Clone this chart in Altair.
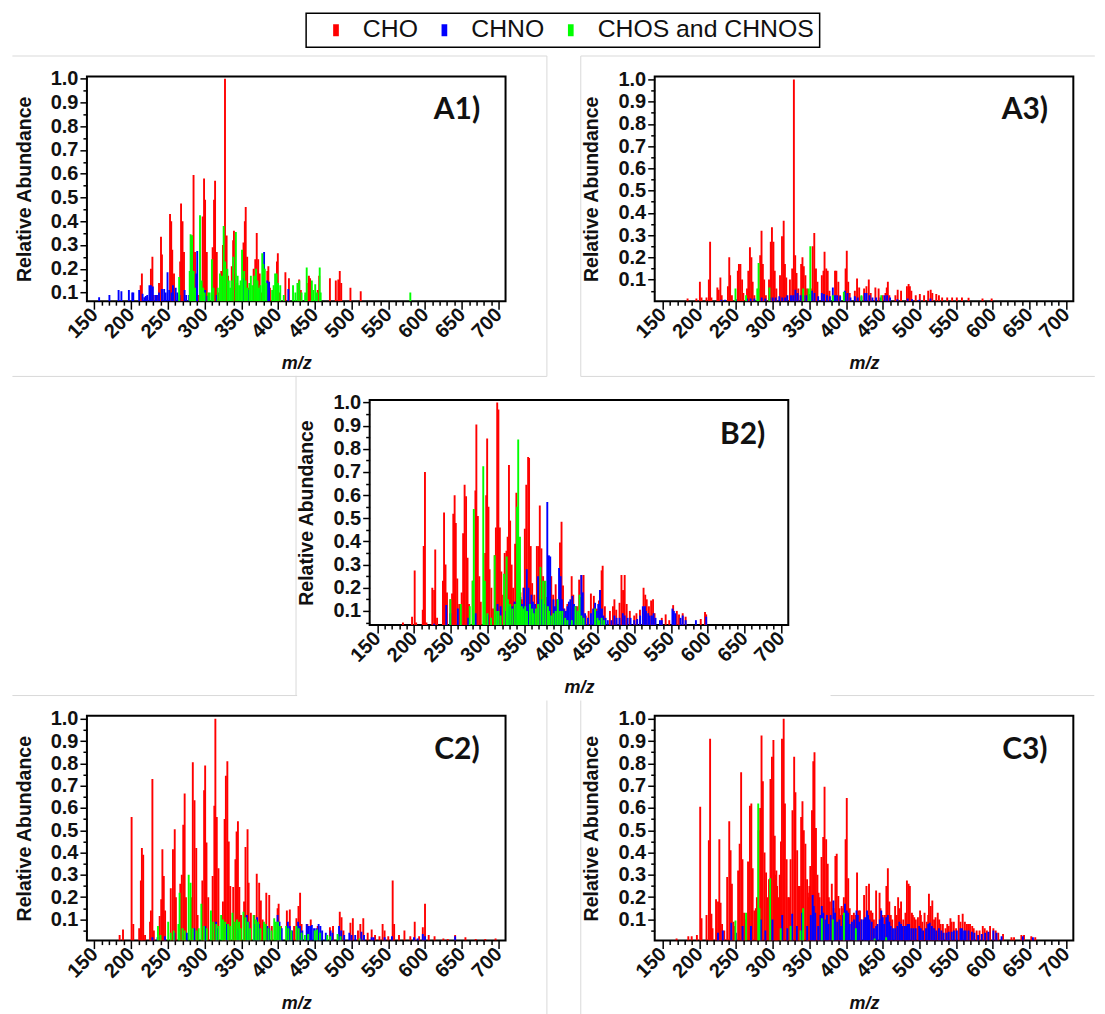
import altair as alt
import pandas as pd

CLASSES = ["CHO", "CHNO", "CHOS and CHNOS"]
COLOURS = ["#ff0000", "#0000ff", "#00ff00"]
X_TICKS = list(range(150, 701, 10))
Y_TICKS = [round(0.05 * i, 2) for i in range(1, 21)]

A1_CHO = [(213,.13),(214.7,.18),(222,.08),(227,.20),(229,.25),(230.5,.09),(235.6,.09),(238,.14),(240.7,.335),(242,.26),(246,.09),(253,.43),(254.6,.40),(256,.28),(258.4,.18),(266.8,.23),(268,.475),(270,.40),(272,.27),(283,.34),(285,.595),(287,.27),(289,.16),(291,.09),(297.4,.42),(299.3,.58),(300.7,.49),(303,.27),(305,.09),(311,.29),(312.9,.49),(314.3,.57),(316.6,.27),(318.5,.1),(322.7,.19),(325,.30),(327.8,1.0),(330,.34),(332,.17),(337,.21),(338.9,.32),(340,.36),(342,.18),(344.5,.14),(353,.31),(354.8,.40),(356,.46),(358,.25),(360,.12),(366.8,.2),(369,.24),(371,.35),(373,.24),(375,.18),(377,.1),(385.4,.19),(386.8,.21),(389,.12),(398.5,.23),(399.7,.265),(402,.1),(410,.185),(414.8,.16),(428.7,.155),(431,.11),(441,.14),(442,.17),(443.6,.16),(454,.11),(456,.17),(470.6,.16),(478.6,.15),(482,.155),(484,.19),(486,.14),(498.5,.12),(512.5,.105)]
A1_CHNO = [(156.5,.08),(170.5,.09),(183,.11),(186.8,.105),(197,.11),(201.6,.10),(203,.10),(211,.11),(215.6,.095),(218,.08),(225,.13),(229.6,.125),(233,.09),(242,.115),(245,.115),(249.6,.185),(257,.13),(260.7,.12),(272.8,.11),(275,.09),(285.4,.10),(288.7,.18),(290,.275),(300.7,.11),(316.6,.09),(352.9,.16),(360,.11),(375,.11),(381,.27),(385.4,.15),(387.8,.145),(414,.115),(437.6,.09),(452.9,.095)]
A1_CHNO_LOW = [(220,.085),(222,.09),(227,.13),(235,.09),(238,.1),(247,.1),(252,.11),(255,.1),(263,.1),(266,.09),(279,.09),(294,.09),(304,.085),(310,.09)]
A1_CHOS = [(265.4,.165),(279.8,.19),(281,.345),(283,.34),(293.8,.425),(296,.15),(307,.10),(310,.24),(321,.18),(323.6,.17),(326,.38),(328,.23),(336.6,.15),(339,.25),(342.6,.355),(351,.28),(354,.19),(363,.17),(367.5,.17),(370,.20),(378.5,.265),(382,.2),(396,.18),(398,.18),(403,.13),(407.8,.09),(420.4,.13),(423.6,.10),(426.4,.14),(429,.15),(439,.205),(446,.15),(450.6,.135),(456.7,.205),(580,.10)]
A1_CHOS_LOW = [(285,.19),(287,.12),(298,.12),(300,.1),(305,.1),(312,.12),(318,.12),(331,.2),(333,.15),(335,.12),(345,.17),(347,.13),(349,.15),(356,.15),(358,.12),(361,.14),(365,.13),(372,.15),(374,.12),(376,.13),(380,.22),(384,.14),(392,.11),(394,.13),(400,.14),(432,.1),(437,.1),(448,.11),(453,.1),(458,.1)]

A3_CHO = [(184,.015),(196,.015),(200.8,.09),(203,.02),(209.8,.02),(213,.1),(214.7,.27),(216.5,.02),(224.6,.065),(226.4,.055),(228.7,.11),(230.5,.03),(239,.07),(240.8,.2),(242,.12),(244.4,.03),(252.5,.14),(254,.17),(256,.17),(258.3,.1),(260,.04),(265,.06),(266.8,.14),(269,.245),(271,.2),(272.7,.09),(275,.03),(280.8,.06),(283,.21),(284.8,.32),(286.6,.17),(288.4,.1),(290.7,.03),(295,.1),(297.4,.27),(299,.335),(301,.27),(302.8,.14),(305,.06),(310,.12),(312.7,.295),(315,.365),(316.7,.17),(318.5,.11),(323.5,.1),(326.6,.15),(328.9,1.0),(330.7,.21),(332.5,.13),(335,.06),(338.8,.17),(340.6,.2),(342.4,.16),(344.6,.12),(346.9,.06),(352,.06),(354.5,.25),(356.7,.31),(359,.15),(361,.09),(367,.12),(369.3,.14),(370.7,.225),(373,.15),(375,.14),(377.4,.05),(385,.14),(386.8,.14),(389.5,.09),(391.8,.03),(399.4,.15),(401,.23),(403,.09),(405,.04),(412,.05),(415,.105),(417.9,.065),(424.6,.06),(427.8,.07),(431,.1),(433.6,.04),(440,.065),(444.4,.06),(450,.03),(453.8,.04),(455.5,.065),(457,.09),(459,.03),(467.3,.03),(470.4,.055),(475,.05),(483,.07),(485.3,.08),(487,.07),(489,.05),(495,.03),(500.6,.035),(506.4,.03),(512,.05),(515.4,.055),(517.6,.04),(523,.035),(526.6,.03),(531,.02),(537.9,.02),(544.6,.02),(551,.02),(558,.02),(567,.018),(586,.015),(598.5,.015)]
A3_CHNO = [(230,.01),(250,.012),(265,.015),(280,.015),(296,.02),(309,.025),(320,.03),(331,.055),(342,.03),(353.6,.05),(367,.04),(382,.065),(385,.03),(398.5,.05),(412,.025),(425.5,.04),(428,.04),(452.5,.03),(484,.015),(515,.015)]
A3_CHNO_LOW = [(235,.01),(270,.015),(275,.015),(285,.02),(290,.015),(300,.02),(304,.02),(313,.02),(317,.02),(325,.03),(328,.03),(334,.04),(338,.03),(346,.03),(350,.035),(357,.04),(362,.025),(370,.035),(374,.03),(378,.025),(388,.03),(392,.025),(402,.04),(406,.02),(416,.02),(421,.025),(432,.03),(436,.02),(441,.02),(447,.02),(456,.03),(460,.02),(470,.012),(490,.012),(500,.01)]
A3_CHOS = [(249.3,.06),(263.7,.03),(279,.06),(280.8,.175),(295.6,.065),(341.5,.06),(349,.06),(351.3,.25),(382,.03),(397,.045),(421,.03),(448,.03)]

B2_CHO = [(185,.05),(197.4,.075),(201,.275),(203,.05),(212,.105),(213.3,.38),(215,.70),(217,.05),(225,.2),(227.5,.19),(229,.365),(231.5,.07),(239.5,.23),(241,.525),(243,.30),(245,.18),(249.6,.15),(251.9,.175),(253.6,.52),(255.4,.60),(257,.48),(259,.24),(261.6,.13),(265,.18),(267,.435),(269,.645),(271,.595),(273,.33),(275,.13),(280,.23),(283.7,.62),(285,.905),(287,.51),(289,.25),(291,.14),(297,.35),(298.4,.6),(299.7,.845),(301.5,.55),(303,.28),(305.4,.2),(307.7,.11),(310,.34),(311.6,.46),(313.4,1.0),(315,.97),(317,.46),(319,.27),(321.4,.17),(323.6,.35),(326,.36),(327.6,.42),(329.4,.73),(331,.49),(333,.3),(335,.2),(337.8,.39),(339.5,.61),(341,.5),(343,.27),(345,.18),(347,.15),(349,.2),(351,.455),(353,.645),(355.5,.765),(356.8,.76),(359,.38),(361,.22),(363.9,.17),(367.4,.38),(369.7,.38),(371.4,.555),(373.6,.37),(375.9,.25),(378,.23),(380.7,.16),(384.7,.12),(387,.25),(389.6,.17),(393,.215),(395.8,.14),(398.9,.395),(401,.485),(403,.21),(405,.11),(409,.13),(414.8,.25),(417,.17),(422,.12),(425,.235),(428,.255),(431,.255),(434,.08),(437.9,.10),(441,.175),(445,.165),(449,.11),(452,.145),(454,.19),(455.6,.275),(457,.295),(460,.12),(466.9,.1),(471,.12),(473,.15),(475.5,.105),(480,.135),(482.6,.255),(484.8,.19),(487,.255),(489.7,.13),(494,.1),(500,.08),(503,.09),(507.8,.105),(512.7,.2),(515,.17),(517,.15),(520,.12),(523,.145),(525.6,.15),(527.7,.09),(537.5,.07),(542.8,.085),(547.7,.06),(553,.125),(558,.1),(561,.085),(566,.09),(570,.075),(590.6,.065),(596.4,.095),(598,.085)]
B2_CHNO = [(227.5,.045),(244,.125),(249.6,.09),(259.8,.11),(274,.07),(284,.09),(300.6,.085),(313.9,.13),(318,.12),(329.4,.12),(337,.14),(344.9,.16),(350,.2),(353.7,.28),(356,.2),(360,.17),(369,.25),(374.5,.15),(381.6,.57),(383.8,.34),(385.6,.335),(390,.15),(397.6,.285),(399.8,.25),(401.5,.15),(411,.14),(413,.15),(415.7,.165),(420,.12),(428,.255),(430,.18),(446.7,.135),(453.4,.19),(458,.08),(464,.06),(473,.08),(484.4,.09),(495,.07),(504,.065),(511.7,.12),(514.6,.12),(519,.09),(526.4,.09),(535,.06),(537.5,.06),(552,.11),(554,.1),(566,.08),(584,.06),(598,.075)]
B2_CHNO_LOW = [(326,.1),(334,.12),(340,.14),(347,.13),(362,.14),(365,.13),(372,.15),(377,.13),(392,.12),(395,.15),(404,.11),(407,.1),(409,.12),(418,.13),(423,.1),(426,.16),(433,.09),(437,.07),(441,.09),(444,.11),(449,.1),(451,.13),(456,.11),(461,.07),(469,.06),(476,.07),(480,.07),(487,.08),(491,.07),(500,.06),(508,.08),(516,.1),(521,.08),(524,.08),(529,.07),(556,.09),(563,.07),(570,.06)]
B2_CHOS = [(249.6,.15),(263.8,.13),(276,.12),(280,.23),(281.5,.54),(294.4,.725),(296.6,.23),(310,.34),(312.7,.1),(322.7,.26),(326.3,.335),(328,.15),(337.4,.13),(340.4,.55),(342,.84),(344.4,.42),(351.5,.12),(358,.13),(366,.11),(372.3,.29),(375.9,.23),(379,.23),(382.5,.12),(396,.15),(406,.07),(420,.12),(425.5,.17),(431,.07),(446.7,.11),(455.6,.07)]
B2_CHOS_LOW = [(300,.09),(305,.07),(315,.1),(318,.08),(331,.13),(334,.11),(347,.12),(349,.11),(354,.1),(361,.11),(363,.09),(369,.13),(384,.1),(387,.08),(390,.09),(393,.1),(399,.1),(402,.1),(409,.06),(415,.06),(423,.1),(428,.08),(450,.07),(452,.06),(459,.06)]

C2_CHO = [(184.4,.03),(189,.055),(200.7,.56),(203,.08),(211,.06),(213.3,.275),(214.7,.42),(216.5,.39),(219,.03),(225.8,.09),(227,.14),(229,.73),(231,.05),(238.9,.115),(241,.19),(242.6,.415),(244.5,.295),(246.3,.14),(254,.24),(257,.415),(259.4,.505),(261,.2),(267,.26),(269,.3),(271,.525),(272.9,.665),(274.7,.2),(282,.2),(284,.805),(286.3,.635),(288.7,.42),(290.5,.12),(297,.275),(299.4,.68),(300.8,.79),(302.6,.445),(305,.2),(311,.295),(313.3,.61),(314.7,1.0),(316.6,.56),(318.9,.33),(325,.18),(327.3,.55),(329,.745),(331,.81),(332.9,.45),(335,.25),(339,.245),(342,.37),(343.6,.495),(345.4,.54),(347.3,.245),(349.6,.12),(353.8,.18),(355.7,.425),(358.5,.505),(360,.265),(363,.13),(367.8,.12),(371,.305),(374.3,.265),(376.6,.185),(379,.1),(384,.22),(388,.21),(391.5,.07),(399.4,.15),(400.8,.17),(404,.07),(412,.14),(416,.145),(421.8,.07),(425,.105),(427.8,.16),(430,.22),(432,.08),(440,.08),(444.5,.1),(454,.07),(470.6,.065),(474.8,.07),(484,.135),(486.4,.11),(489,.05),(498.5,.085),(501.8,.105),(508.8,.05),(512,.08),(516,.105),(522,.04),(527.4,.055),(532,.03),(538,.025),(542.3,.08),(545,.05),(550,.025),(556,.275),(558,.08),(564.6,.03),(572,.05),(580,.025),(586,.09),(592,.025),(597,.065),(600,.17),(605,.03),(613,.025),(625,.015),(631,.012),(641,.03),(655,.02),(669,.012),(682,.012),(696,.015)]
C2_CHNO = [(229,.02),(236,.02),(246,.025),(259,.04),(276,.04),(286,.06),(300.8,.07),(315.7,.09),(329.6,.08),(344.5,.06),(357.5,.12),(371.5,.11),(385.5,.07),(399.4,.12),(413.4,.09),(427.3,.09),(439,.08),(443.6,.07),(446,.075),(455.2,.08),(457.6,.07),(471.5,.05),(483,.07),(497,.04),(513.4,.045),(527.4,.02),(555,.025),(585,.02),(597,.035),(641,.025)]
C2_CHNO_LOW = [(302,.05),(318,.06),(332,.06),(347,.05),(360,.09),(368,.08),(374,.08),(388,.06),(402,.09),(405,.06),(416,.07),(419,.05),(430,.07),(433,.05),(441,.07),(449,.06),(452,.06),(460,.05),(465,.04),(474,.04),(486,.05),(490,.03),(500,.03),(505,.03),(517,.03),(530,.02),(545,.02),(590,.015),(600,.025)]
C2_CHOS = [(236.6,.07),(250.5,.09),(264.5,.08),(266,.22),(278.4,.30),(281,.265),(295.6,.17),(308.7,.14),(322.6,.12),(325,.1),(338,.13),(341,.09),(352.9,.135),(366.8,.12),(380.8,.09),(394.8,.105),(397,.09),(411,.07),(425,.07),(436.6,.03),(453,.055),(467,.03),(481,.035),(511,.015)]
C2_CHOS_LOW = [(240,.03),(254,.04),(258,.05),(270,.06),(273,.05),(284,.06),(289,.05),(292,.06),(299,.07),(303,.06),(312,.09),(316,.08),(319,.07),(328,.09),(332,.08),(335,.07),(344,.1),(347,.09),(349,.06),(356,.11),(359,.09),(362,.06),(370,.1),(373,.09),(376,.06),(383,.08),(387,.06),(391,.05),(400,.09),(403,.07),(414,.06),(418,.05),(428,.06),(432,.04),(441,.035),(450,.05),(457,.04),(471,.025),(485,.025)]

C3_CHO = [(159.4,.006),(169,.015),(185,.025),(189.6,.025),(196.7,.03),(201.2,.605),(203,.105),(209.8,.12),(213,.455),(214.7,.91),(216.5,.125),(222.8,.19),(225.5,.18),(227.3,.46),(229,.175),(231,.08),(238,.29),(240.8,.54),(242.6,.41),(244.4,.26),(246.6,.09),(252.9,.32),(255,.44),(257,.76),(258.8,.37),(261,.13),(266.4,.36),(269,.61),(270.9,.62),(272.7,.33),(275,.14),(280.8,.5),(283,.6),(284.8,.925),(286.6,.72),(288.9,.4),(291,.31),(295,.28),(297,.73),(299,.83),(301,.905),(302.8,.475),(305,.32),(307.5,.2),(309.6,.3),(311.3,.45),(312.7,.91),(315,1.0),(316.7,.62),(319,.37),(321,.2),(324.4,.37),(327,.59),(329.3,.83),(331,.67),(333.4,.41),(335.6,.25),(337,.25),(338.8,.56),(340.6,.63),(342.4,.5),(344.6,.44),(346.9,.28),(349,.2),(351.3,.34),(353.6,.59),(355.4,.81),(357,.85),(359,.51),(361,.3),(364,.2),(366.6,.38),(368.9,.47),(370.7,.695),(372.9,.46),(375,.35),(378,.18),(380.6,.26),(383,.15),(385.5,.385),(387.3,.395),(389.5,.205),(392,.12),(394,.16),(397,.2),(399.4,.46),(401,.645),(403,.285),(405,.15),(410.7,.13),(413,.12),(415,.31),(417.4,.14),(421,.1),(424.6,.21),(427.8,.25),(431.3,.26),(434,.14),(438,.1),(441,.23),(445.7,.22),(450,.12),(453,.12),(455,.25),(457,.33),(459,.18),(463,.1),(466.9,.16),(471,.2),(475,.18),(478,.1),(481,.13),(483,.275),(485.3,.26),(487,.25),(489.8,.13),(495,.1),(498,.11),(500.9,.14),(504,.09),(507,.13),(510,.09),(513,.215),(515.4,.16),(517.6,.185),(522,.11),(525,.13),(529,.08),(535.7,.06),(540,.07),(542.3,.105),(546.9,.09),(550,.06),(553.6,.12),(559,.125),(564.8,.08),(569,.08),(574,.06),(578,.05),(586.4,.07),(592,.05),(596.3,.07),(600.8,.06),(607.5,.04),(614,.035),(625.5,.02),(629,.02),(639,.03),(642.6,.03),(652.5,.025),(657.9,.02)]
C3_CHO_LOW = [(218,.06),(234,.05),(248,.07),(263,.1),(277,.15),(278.5,.2),(293,.2),(304,.3),(306,.25),(322.5,.2),(336,.25),(348,.22),(350,.25),(362.5,.22),(376.5,.2),(391,.15),(396,.15),(408,.12),(419,.14),(436,.13),(447,.15),(461,.12),(469,.12),(473,.15),(491,.12),(493,.11),(502,.12),(512,.12),(520,.1),(527,.1),(532,.08),(538,.08),(544,.09),(556,.09),(562,.09),(567,.08),(572,.07),(582,.05),(589,.06),(604,.05)]
C3_CHNO = [(225.5,.04),(232,.05),(243.5,.085),(250,.04),(259,.07),(270.4,.07),(283.9,.10),(290,.05),(299.7,.10),(313,.12),(320,.06),(326.6,.125),(333,.07),(340,.13),(347,.07),(352,.12),(354.5,.21),(358,.13),(362,.07),(367,.16),(372,.1),(376,.08),(382.8,.185),(388,.09),(393,.07),(398.5,.17),(401,.14),(405,.08),(411,.1),(414.3,.14),(418,.09),(424,.1),(428.6,.14),(432,.1),(438,.06),(443,.08),(448,.14),(452,.08),(457,.12),(461,.07),(467,.06),(472.7,.09),(477,.07),(482,.07),(486,.08),(492,.06),(499.7,.07),(505,.05),(509,.06),(514,.085),(520,.06),(526.6,.06),(533,.04),(540,.045),(547,.05),(555.9,.06),(563,.05),(571.6,.045),(580,.03),(589.6,.04),(600.8,.05),(612,.025),(641,.025),(654.7,.02)]
C3_CHNO_LOW = [(356,.16),(365,.12),(369,.13),(374,.12),(379,.12),(385,.13),(391,.1),(396,.12),(403,.13),(408,.09),(416,.12),(421,.1),(426,.11),(430,.12),(435,.09),(441,.07),(446,.1),(450,.11),(455,.11),(459,.09),(464,.06),(470,.07),(475,.08),(480,.07),(484,.08),(489,.06),(495,.06),(502,.06),(512,.08),(517,.07),(523,.05),(530,.05),(537,.04),(544,.045),(551,.05),(558,.06),(561,.05),(567,.05),(575,.04),(585,.035),(594,.045),(605,.04)]
C3_CHOS = [(249.3,.095),(263.7,.13),(280.3,.62),(282,.15),(296.5,.285),(310.9,.06),(324.4,.07),(337.9,.05),(341.5,.15),(367,.105),(382,.10),(397.2,.13),(413.4,.06),(439,.015),(454.7,.02)]

FONT = "Liberation Sans"
W, H = 419, 225
GREY = "#d9d9d9"
TOP_BOX = (306, 820, 12.7, 46.7)
RIGHT = 1096
root = {"left": 2, "top": 3, "right": 0, "bottom": 0}
one = alt.Data(values=[{}])


def table(cho, chno, chos):
    rows = []
    for name, series in zip(CLASSES, (cho, chno, chos)):
        rows += [{"mz": m, "v": v, "cls": name} for m, v in series]
    return pd.DataFrame(rows)


def hline(x0, x1, y, left, top, col=GREY, op=1):
    return alt.Chart(one).mark_rule(color=col, strokeWidth=1, opacity=op).encode(
        x=alt.value(x0 - left), x2=alt.value(x1 - left), y=alt.value(y - top))


def vline(x, y0, y1, left, top, col=GREY, op=1):
    return alt.Chart(one).mark_rule(color=col, strokeWidth=1, opacity=op).encode(
        x=alt.value(x - left), y=alt.value(y0 - top), y2=alt.value(y1 - top))


def panel(name, series, left, top, xdom, ydom, label_xy, lines):
    y_vals = [t for t in Y_TICKS if t >= ydom[0]]
    bars = alt.Chart(table(*series)).mark_bar(size=1.9, clip=True).encode(
        x=alt.X("mz:Q", scale=alt.Scale(domain=xdom, nice=False, zero=False),
                axis=alt.Axis(values=X_TICKS, title="m/z", labelAngle=-45, labelAlign="right",
                              labelBaseline="middle", labelOverlap=False, grid=False, domain=False,
                              labelExpr="datum.value % 50 == 0 ? datum.label : ''",
                              tickSize={"condition": {"test": "datum.value % 50 == 0", "value": 8}, "value": 4},
                              tickColor="black", tickWidth=1.5,
                              labelFont=FONT, labelFontSize=20, labelFontWeight="bold", labelColor="#111",
                              labelPadding=2, labelFlush=False, labelBound=False,
                              titleFont=FONT, titleFontSize=18, titleFontWeight="bold", titleFontStyle="italic",
                              titleColor="#111", titlePadding=13)),
        y=alt.Y("v:Q", stack=None, scale=alt.Scale(domain=ydom, nice=False, zero=False),
                axis=alt.Axis(values=y_vals, title="Relative Abundance", grid=False, domain=False,
                              format=".1f", labelOverlap=False, labelFlush=False, labelBound=False,
                              labelExpr="round(datum.value * 100) % 10 == 0 ? datum.label : ''",
                              tickSize={"condition": {"test": "round(datum.value * 100) % 10 == 0", "value": 7}, "value": 4},
                              tickColor="black", tickWidth=1.5,
                              labelFont=FONT, labelFontSize=20, labelFontWeight="bold", labelColor="#111",
                              labelPadding=2,
                              titleFont=FONT, titleFontSize=19.5, titleFontWeight="bold", titleColor="#111",
                              titlePadding=16)),
        color=alt.Color("cls:N", scale=alt.Scale(domain=CLASSES, range=COLOURS), sort=CLASSES,
                        legend=alt.Legend(title=None, orient="none", legendX=236.9, legendY=5,
                                          direction="horizontal", padding=0,
                                          symbolType="M-0.38,-0.8H0.38V0.8H-0.38Z", symbolSize=225,
                                          symbolStrokeWidth=0, symbolOpacity=1,
                                          labelFont=FONT, labelFontSize=24.8, labelColor="#111",
                                          labelOffset=14.5, columnPadding=13.5, labelLimit=400)),
    )
    txt = alt.Chart(one).mark_text(text=name, font="Lato", fontWeight="bold", fontSize=30,
                                   color="#111", align="center", baseline="middle").encode(
        x=alt.value(label_xy[0] - left), y=alt.value(label_xy[1] - top))
    return alt.layer(*lines, bars, txt).properties(width=W, height=H)


LA1, LA3 = 86.6, 655.5
TR1, TR3 = 74.7, 715.3
LB, TB = 370.7, 399.3

a1 = panel("A1)", (A1_CHO, A1_CHNO + A1_CHNO_LOW, A1_CHOS + A1_CHOS_LOW), LA1, TR1, [146.7, 702.8], [0.0634, 1.0097], (457, 108),
           [hline(12, 547, 54.3, LA1, TR1), vline(547, 54.3, 375, LA1, TR1), hline(12, 547, 375, LA1, TR1)])
a3 = panel("A3)", (A3_CHO, A3_CHNO + A3_CHNO_LOW, A3_CHOS), LA3, TR1, [146, 703], [0.003, 1.0135], (1026, 108),
           [hline(581.5, RIGHT, 54.3, LA3, TR1), vline(581.5, 54.3, 375, LA3, TR1), hline(581.5, RIGHT, 375, LA3, TR1)])
b2 = panel("B2)", (B2_CHO, B2_CHNO + B2_CHNO_LOW, B2_CHOS + B2_CHOS_LOW), LB, TB, [146.5, 703], [0.0396, 1.0104], (744, 434),
           [vline(297, 375, 695, LB, TB), hline(832, RIGHT, 695, LB, TB)])
c2 = panel("C2)", (C2_CHO, C2_CHNO + C2_CHNO_LOW, C2_CHOS + C2_CHOS_LOW), LA1, TR3, [146.7, 702.8], [0.005, 1.0134], (457, 750),
           [hline(12, 547, 695, LA1, TR3, op=0), vline(547, 700, 1014, LA1, TR3)])
c3 = panel("C3)", (C3_CHO + C3_CHO_LOW, C3_CHNO + C3_CHNO_LOW, C3_CHOS), LA3, TR3, [146, 703], [0.005, 1.0134], (1026, 750),
           [hline(581.5, RIGHT, 695, LA3, TR3, op=0), vline(581.5, 700, 1014, LA3, TR3)])

# left filler of the middle row: its plot area lines up with B2's top and the column's left
filler = alt.layer(hline(12, 297, 695, LA1, TB)).properties(
    width=297 - LA1, height=H, view=alt.ViewConfig(stroke=None))

box = alt.Chart(one).mark_rect(fill="white", stroke="black", strokeWidth=1.5).encode(
    x=alt.value(TOP_BOX[0] - LA1), x2=alt.value(TOP_BOX[1] - LA1),
    y=alt.value(TOP_BOX[2] - 12), y2=alt.value(TOP_BOX[3] - 12),
).properties(width=800, height=45.5, view=alt.ViewConfig(stroke=None))

chart = alt.vconcat(box,
                    alt.hconcat(a1, a3, spacing=30.3),
                    alt.hconcat(filler, b2, spacing=-4),
                    alt.hconcat(c2, c3, spacing=30.3),
                    spacing=-4
                    ).properties(padding=root, background="white"
                    ).configure_view(stroke="black", strokeWidth=2)

chart.save("out.html", embed_options={"renderer": "svg", "actions": False})
